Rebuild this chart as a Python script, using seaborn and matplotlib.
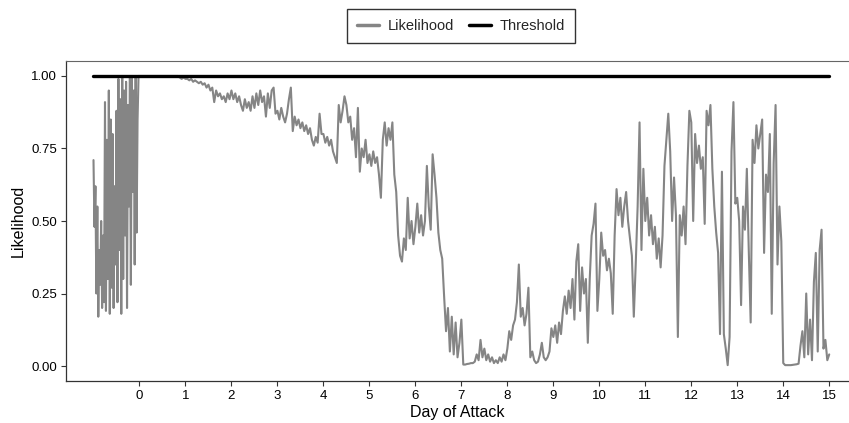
import numpy as np
import pandas as pd
import matplotlib
matplotlib.use("Agg")
import matplotlib.pyplot as plt
import seaborn as sns

# Likelihood of attack, half-hourly over the day before the attack
pre_attack = [
    0.71, 0.48, 0.62, 0.25, 0.55, 0.17, 0.40, 0.28, 0.50, 0.20, 0.45, 0.22,
    0.91, 0.19, 0.78, 0.30, 0.95, 0.18, 0.85, 0.27, 0.80, 0.20, 0.62, 0.35,
    0.88, 0.22, 0.99, 0.40, 0.92, 0.18, 1.00, 0.30, 0.95, 0.45, 0.98, 0.20,
    0.90, 0.55, 1.00, 0.28, 1.00, 0.60, 0.95, 0.35, 1.00, 0.46, 0.85, 1.00,
]

# Hourly likelihood, one list per day of the attack
day_0 = [1.00] * 21 + [0.995, 0.99, 0.995]
day_1 = [0.99, 0.99, 0.985, 0.99, 0.98, 0.985, 0.98, 0.975, 0.98, 0.97, 0.975, 0.96,
         0.97, 0.95, 0.96, 0.91, 0.95, 0.93, 0.94, 0.92, 0.93, 0.91, 0.94, 0.92]
day_2 = [0.95, 0.92, 0.94, 0.91, 0.93, 0.90, 0.88, 0.92, 0.89, 0.91, 0.88, 0.93,
         0.89, 0.94, 0.90, 0.95, 0.91, 0.93, 0.86, 0.94, 0.89, 0.95, 0.96, 0.87]
day_3 = [0.88, 0.85, 0.89, 0.86, 0.84, 0.87, 0.92, 0.96, 0.81, 0.86, 0.83, 0.85,
         0.82, 0.84, 0.81, 0.83, 0.80, 0.82, 0.78, 0.76, 0.79, 0.77, 0.87, 0.80]
day_4 = [0.80, 0.77, 0.79, 0.76, 0.78, 0.74, 0.72, 0.70, 0.90, 0.84, 0.88, 0.93,
         0.90, 0.84, 0.86, 0.78, 0.82, 0.72, 0.89, 0.67, 0.75, 0.72, 0.78, 0.70]
day_5 = [0.73, 0.69, 0.74, 0.70, 0.72, 0.66, 0.58, 0.78, 0.84, 0.76, 0.82, 0.78,
         0.84, 0.66, 0.60, 0.45, 0.38, 0.36, 0.44, 0.40, 0.58, 0.44, 0.50, 0.42]
day_6 = [0.48, 0.56, 0.46, 0.52, 0.45, 0.50, 0.69, 0.55, 0.47, 0.73, 0.66, 0.58,
         0.46, 0.40, 0.37, 0.24, 0.12, 0.20, 0.05, 0.17, 0.04, 0.15, 0.03, 0.08]
day_7 = [0.16, 0.005, 0.005, 0.007, 0.008, 0.01, 0.01, 0.015, 0.04, 0.02, 0.09, 0.03,
         0.06, 0.02, 0.04, 0.015, 0.03, 0.01, 0.02, 0.01, 0.03, 0.015, 0.04, 0.02]
day_8 = [0.06, 0.12, 0.09, 0.14, 0.16, 0.22, 0.35, 0.17, 0.20, 0.14, 0.18, 0.27,
         0.03, 0.05, 0.02, 0.01, 0.015, 0.04, 0.08, 0.03, 0.02, 0.03, 0.05, 0.13]
day_9 = [0.10, 0.14, 0.08, 0.15, 0.11, 0.19, 0.24, 0.18, 0.26, 0.20, 0.30, 0.16,
         0.36, 0.42, 0.19, 0.34, 0.25, 0.30, 0.08, 0.30, 0.45, 0.49, 0.56, 0.19]
day_10 = [0.30, 0.46, 0.38, 0.40, 0.33, 0.37, 0.32, 0.18, 0.45, 0.61, 0.52, 0.58,
          0.48, 0.55, 0.60, 0.50, 0.44, 0.38, 0.17, 0.35, 0.55, 0.84, 0.40, 0.68]
day_11 = [0.50, 0.58, 0.45, 0.52, 0.42, 0.48, 0.37, 0.44, 0.34, 0.45, 0.69, 0.78,
          0.87, 0.74, 0.50, 0.65, 0.52, 0.10, 0.52, 0.45, 0.55, 0.42, 0.69, 0.88]
day_12 = [0.84, 0.50, 0.80, 0.70, 0.76, 0.68, 0.72, 0.49, 0.88, 0.83, 0.90, 0.68,
          0.55, 0.46, 0.39, 0.11, 0.67, 0.11, 0.06, 0.003, 0.10, 0.74, 0.91, 0.56]
day_13 = [0.58, 0.50, 0.21, 0.55, 0.47, 0.68, 0.40, 0.15, 0.78, 0.70, 0.83, 0.75,
          0.80, 0.85, 0.39, 0.66, 0.60, 0.80, 0.18, 0.70, 0.90, 0.35, 0.55, 0.43]
day_14 = [0.01, 0.003, 0.003, 0.003, 0.003, 0.004, 0.005, 0.006, 0.008, 0.07, 0.12, 0.03,
          0.25, 0.04, 0.16, 0.02, 0.29, 0.39, 0.05, 0.40, 0.47, 0.06, 0.09, 0.02]
day_15 = [0.04]

threshold_value = 1.0
threshold_days = [-1, 15]

x_ticks = list(range(0, 16))
y_ticks = [0.00, 0.25, 0.50, 0.75, 1.00]

attack_days = [day_0, day_1, day_2, day_3, day_4, day_5, day_6, day_7,
               day_8, day_9, day_10, day_11, day_12, day_13, day_14, day_15]
hourly = np.concatenate(attack_days)

days = np.concatenate([-1 + np.arange(len(pre_attack)) / 48.0,
                       np.arange(len(hourly)) / 24.0])
values = np.concatenate([pre_attack, hourly])

likelihood_df = pd.DataFrame({"day": days, "value": values})
threshold_df = pd.DataFrame({"day": threshold_days,
                             "value": [threshold_value] * len(threshold_days)})

sns.set_style("ticks")
plt.rcParams["font.family"] = ["Liberation Sans", "DejaVu Sans"]

fig = plt.figure(figsize=(8.49, 4.23), dpi=100)
ax = fig.add_axes([66 / 849, 1 - 381 / 423, 783 / 849, 320 / 423])

sns.lineplot(data=likelihood_df, x="day", y="value", ax=ax, color="#858585",
             linewidth=1.5, label="Likelihood", estimator=None, sort=False)
sns.lineplot(data=threshold_df, x="day", y="value", ax=ax, color="black",
             linewidth=2.4, label="Threshold", estimator=None)

ax.set_xlim(-1.598, 15.43)
ax.set_ylim(-0.0517, 1.0517)
ax.set_xticks(x_ticks)
ax.set_xticklabels([str(t) for t in x_ticks])
ax.set_yticks(y_ticks)
ax.set_yticklabels([f"{t:.2f}" for t in y_ticks])

ax.set_xlabel("Day of Attack", fontsize=11.5, color="black", labelpad=2)
ax.set_ylabel("Likelihood", fontsize=11.5, color="black", labelpad=4)
ax.tick_params(axis="both", labelsize=9.5, colors="#333333", length=3.5,
               width=0.8, direction="out", pad=3)
for lab in ax.get_xticklabels() + ax.get_yticklabels():
    lab.set_color("black")

for side in ("left", "bottom"):
    ax.spines[side].set_color("#333333")
    ax.spines[side].set_linewidth(0.9)
ax.spines["top"].set_visible(True)
ax.spines["top"].set_color("#666666")
ax.spines["top"].set_linewidth(0.8)
ax.spines["right"].set_visible(False)

handles, labels = ax.get_legend_handles_labels()
ax.get_legend().remove()
leg = fig.legend(handles, labels, loc="center", bbox_to_anchor=(461 / 849, 1 - 26 / 423),
                 ncol=2, frameon=True, fancybox=False, fontsize=10.5,
                 handlelength=1.5, handletextpad=0.6, columnspacing=1.0,
                 borderpad=0.7)
leg.get_frame().set_edgecolor("black")
leg.get_frame().set_linewidth(1.0)
for line in leg.get_lines():
    line.set_linewidth(2.5)

fig.savefig("out.png", dpi=100)
